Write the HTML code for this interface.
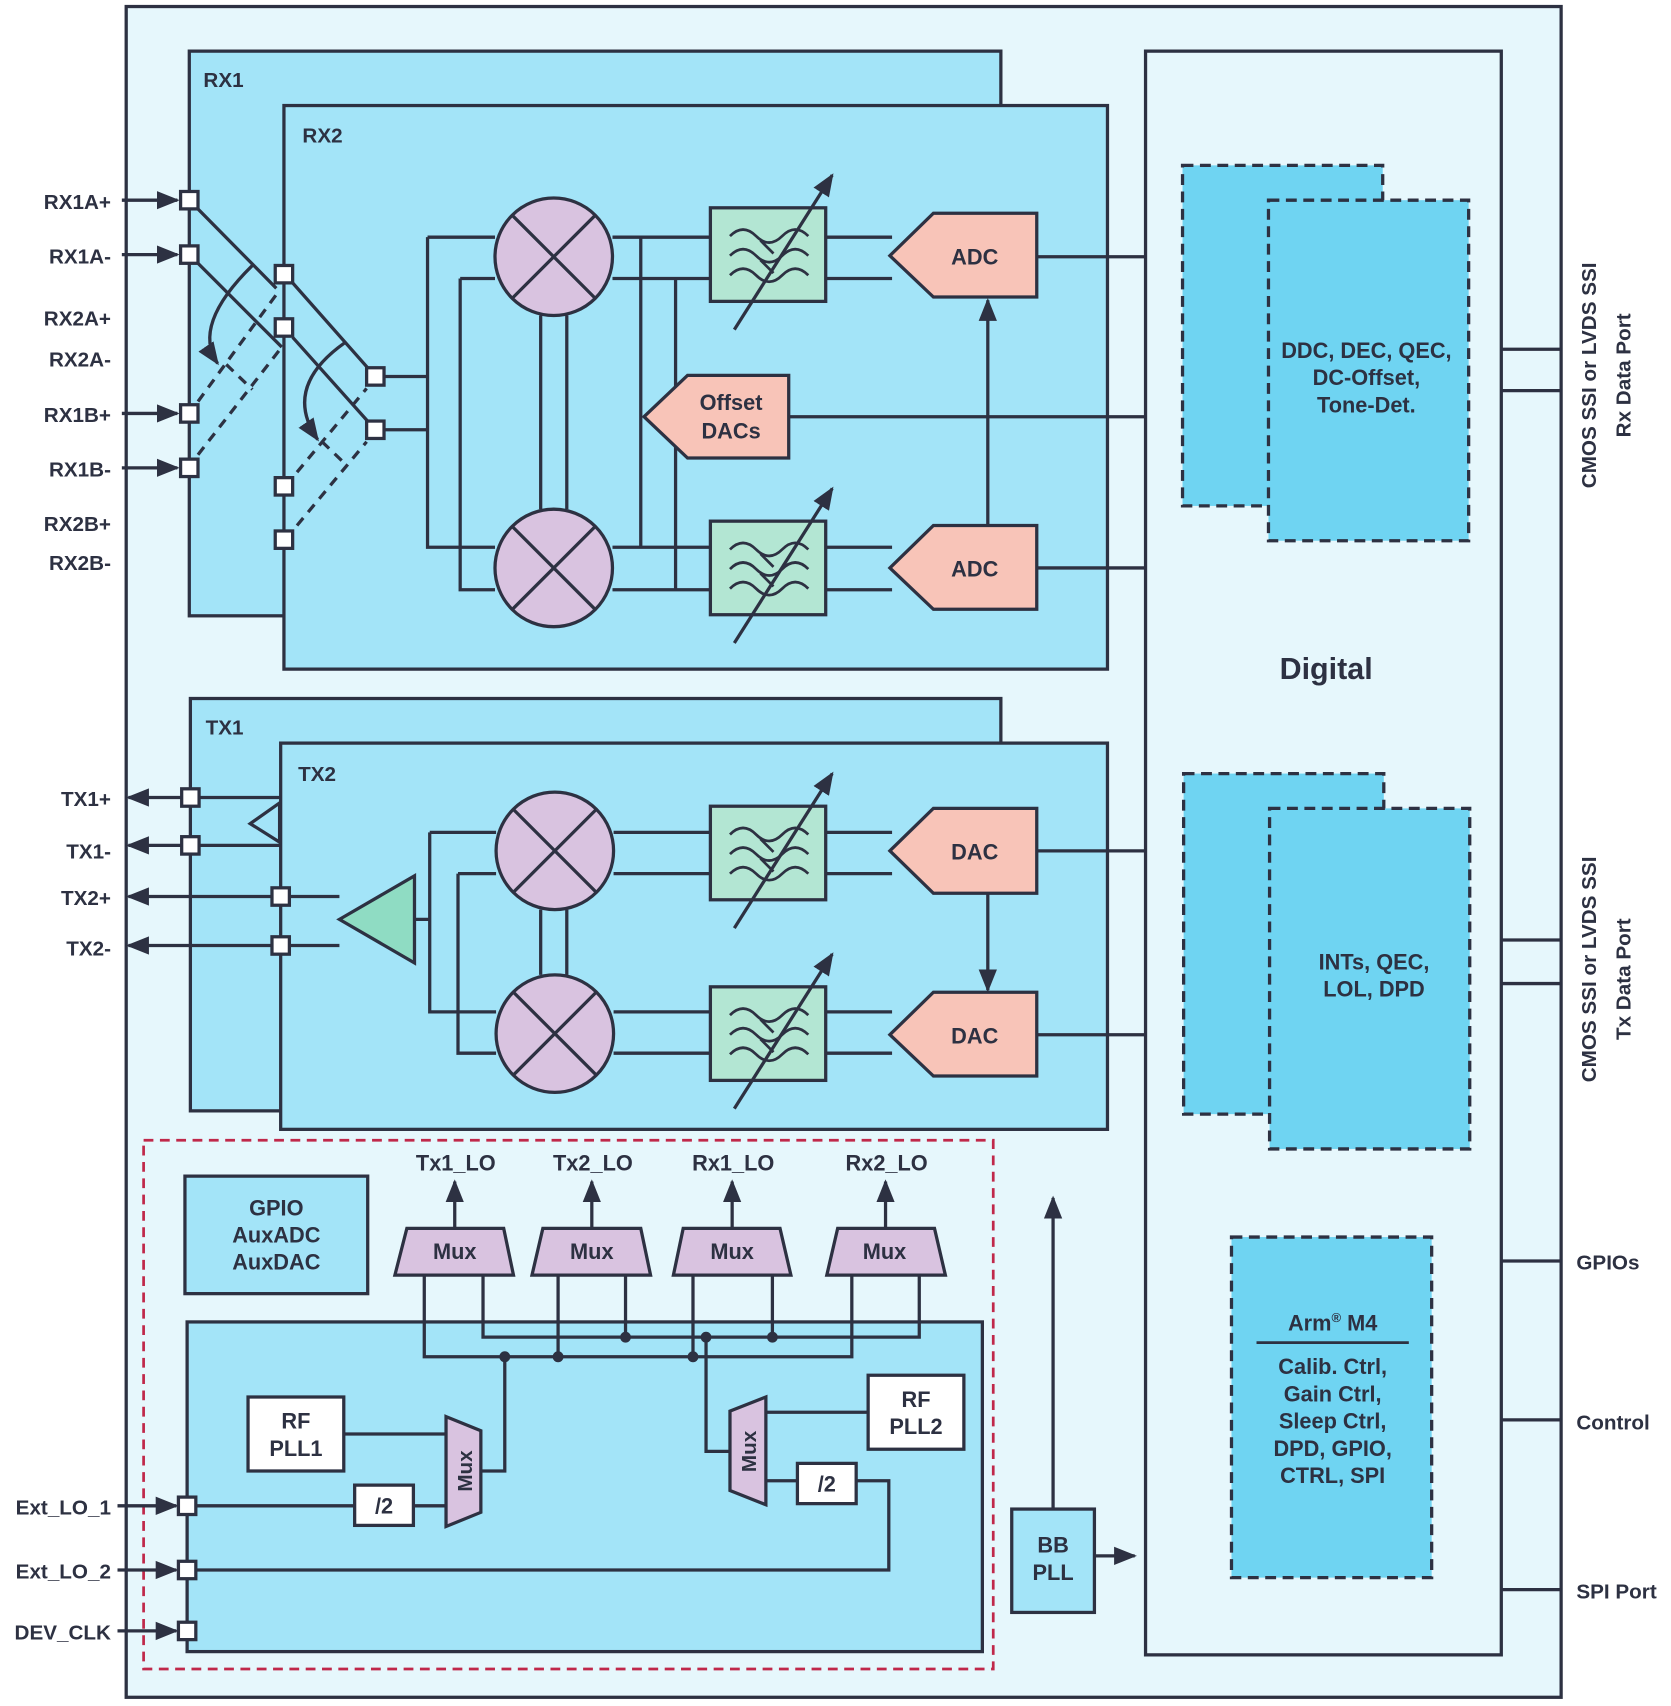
<!DOCTYPE html>
<html><head><meta charset="utf-8"><style>
html,body{margin:0;padding:0;background:#fff}
svg{display:block}
text{font-family:"Liberation Sans",sans-serif;font-weight:bold;fill:#2d3142}
</style></head><body>
<svg width="1671" height="1706" viewBox="0 0 1536 1568" preserveAspectRatio="none" xmlns="http://www.w3.org/2000/svg">
<defs>
<marker id="a" viewBox="0 0 10 10" refX="9" refY="5" markerWidth="7" markerHeight="7" orient="auto"><path d="M0,1 L10,5 L0,9 z" fill="#2d3142"/></marker>
<g id="mix"><circle r="54" fill="#d9c3e0" stroke="#2d3142" stroke-width="3"/><path d="M-38,-38 L38,38 M38,-38 L-38,38" stroke="#2d3142" stroke-width="3"/></g>
<g id="flt"><rect x="0" y="0" width="106" height="86" fill="#b3e6d3" stroke="#2d3142" stroke-width="3"/>
<path d="M18,26 q12,-12 24,0 t24,0 t24,0 M18,44 q12,-12 24,0 t24,0 t24,0 M18,62 q12,-12 24,0 t24,0 t24,0" fill="none" stroke="#2d3142" stroke-width="2.5"/>
<path d="M46,30 l12,12 M46,48 l12,12" stroke="#2d3142" stroke-width="2.5"/>
<path d="M22,112 L112,-30" stroke="#2d3142" stroke-width="3" marker-end="url(#a)"/></g>
<g id="sq"><rect x="-8" y="-8" width="16" height="16" fill="#fff" stroke="#2d3142" stroke-width="3"/></g>
</defs>
<rect x="0" y="0" width="1536" height="1568" fill="#fff"/>
<rect x="116" y="6" width="1319" height="1554" fill="#e6f7fc" stroke="#2d3142" stroke-width="3"/>
<g stroke="#2d3142" stroke-width="3" fill="none">
<path d="M1380,321 H1435 M1380,359 H1435 M1380,864 H1435 M1380,904 H1435 M1380,1159 H1435 M1380,1305 H1435 M1380,1461 H1435"/>
</g>
<rect x="174" y="47" width="746" height="519" fill="#a3e4f8" stroke="#2d3142" stroke-width="3"/>
<rect x="261" y="97" width="757" height="518" fill="#a3e4f8" stroke="#2d3142" stroke-width="3"/>
<rect x="175" y="642" width="745" height="379" fill="#a3e4f8" stroke="#2d3142" stroke-width="3"/>
<rect x="258" y="683" width="760" height="355" fill="#a3e4f8" stroke="#2d3142" stroke-width="3"/>
<rect x="1053" y="47" width="327" height="1474" fill="#e6f7fc" stroke="#2d3142" stroke-width="3"/>
<g fill="#6fd4f2" stroke="#2d3142" stroke-width="3" stroke-dasharray="10,6">
<rect x="1087" y="152" width="184" height="313"/><rect x="1166" y="184" width="184" height="313"/>
<rect x="1088" y="711" width="184" height="313"/><rect x="1167" y="743" width="184" height="313"/>
<rect x="1132" y="1137" width="184" height="313"/>
</g>
<rect x="132" y="1048" width="781" height="486" fill="none" stroke="#c0284a" stroke-width="2.5" stroke-dasharray="9,6"/>
<rect x="172" y="1215" width="731" height="303" fill="#a3e4f8" stroke="#2d3142" stroke-width="3"/>
<rect x="170" y="1081" width="168" height="108" fill="#a3e4f8" stroke="#2d3142" stroke-width="3"/>
<rect x="930" y="1387" width="76" height="95" fill="#a3e4f8" stroke="#2d3142" stroke-width="3"/>

<g stroke="#2d3142" stroke-width="3" fill="none">
<!-- RX switch -->
<path d="M174,184 L254,265 M174,234 L259,319 M269,260 L345,346 M269,310 L345,395 M345,346 H393 M345,395 H393"/>
<path d="M182,369 L256,268 M182,418 L259,319 M208,335 L232,358 M273,434 L337,357 M273,483 L337,406 M296,406 L318,427" stroke-dasharray="9,7"/>
<path d="M232,244 Q176,299 200,334" marker-end="url(#a)"/>
<path d="M317,315 Q259,356 292,404" marker-end="url(#a)"/>
<path d="M393,218 V503 H455 M393,218 H455 M423,256 V542 H455 M423,256 H455"/>
<path d="M563,218 H653 M563,256 H653 M563,503 H653 M563,542 H653 M589,218 V503 M621,256 V542"/>
<path d="M497,290 V468 M521,290 V468"/>
<path d="M759,218 H820 M759,256 H820 M759,503 H820 M759,542 H820"/>
<path d="M953,236 H1053 M953,522 H1053 M725,383 H1053"/>
<path d="M908,483 V276" marker-end="url(#a)"/>
<!-- TX wiring -->
<path d="M175,733 H258 M175,777 H258 M258,824 H312 M258,869 H312"/>
<path d="M175,733 H118" marker-end="url(#a)"/>
<path d="M175,777 H118" marker-end="url(#a)"/>
<path d="M258,824 H118" marker-end="url(#a)"/>
<path d="M258,869 H118" marker-end="url(#a)"/>
<path d="M382,845 H395 M395,765 V930 H456 M395,765 H456 M421,803 V968 H456 M421,803 H456"/>
<path d="M564,765 H653 M564,803 H653 M564,930 H653 M564,968 H653"/>
<path d="M497,836 V896 M521,836 V896"/>
<path d="M759,765 H820 M759,803 H820 M759,930 H820 M759,968 H820"/>
<path d="M953,782 H1053 M953,951 H1053"/>
<path d="M908,821 V910" marker-end="url(#a)"/>
<!-- input arrows -->
<path d="M112,184 H163" marker-end="url(#a)"/>
<path d="M112,234 H163" marker-end="url(#a)"/>
<path d="M112,380 H163" marker-end="url(#a)"/>
<path d="M112,430 H163" marker-end="url(#a)"/>
<path d="M108,1384 H162" marker-end="url(#a)"/>
<path d="M108,1443 H162" marker-end="url(#a)"/>
<path d="M108,1499 H162" marker-end="url(#a)"/>
<!-- LO mux wiring -->
<path d="M418,1129 V1086" marker-end="url(#a)"/>
<path d="M544,1129 V1086" marker-end="url(#a)"/>
<path d="M673,1129 V1086" marker-end="url(#a)"/>
<path d="M814,1129 V1086" marker-end="url(#a)"/>
<path d="M390,1172 V1247 H783 V1172 M444,1172 V1229 H845 V1172 M513,1172 V1247 M575,1172 V1229 M637,1172 V1247 M710,1172 V1229"/>
<path d="M464,1247 V1352 H441 M649,1229 V1334 H671"/>
<path d="M316,1318 H410 M172,1384 H326 M380,1384 H410 M172,1443 H817 V1361 H787 M733,1361 H704 M797,1298 H704"/>
<path d="M968,1387 V1101" marker-end="url(#a)"/>
<path d="M1006,1430 H1043" marker-end="url(#a)"/>
</g>
<g fill="#2d3142"><circle cx="464" cy="1247" r="5"/><circle cx="513" cy="1247" r="5"/><circle cx="637" cy="1247" r="5"/><circle cx="575" cy="1229" r="5"/><circle cx="649" cy="1229" r="5"/><circle cx="710" cy="1229" r="5"/></g>

<use href="#mix" x="509" y="236"/><use href="#mix" x="509" y="522"/>
<use href="#mix" x="510" y="782"/><use href="#mix" x="510" y="950"/>
<use href="#flt" x="653" y="191"/><use href="#flt" x="653" y="479"/>
<use href="#flt" x="653" y="741"/><use href="#flt" x="653" y="907"/>
<g fill="#f8c4b8" stroke="#2d3142" stroke-width="3">
<polygon points="818,235 858,196 953,196 953,273 858,273"/>
<polygon points="818,522 858,483 953,483 953,560 858,560"/>
<polygon points="818,782 858,743 953,743 953,821 858,821"/>
<polygon points="818,951 858,912 953,912 953,989 858,989"/>
<polygon points="592,383 632,345 725,345 725,421 632,421"/>
</g>
<polygon points="312,845 381,805 381,885" fill="#8fdcc3" stroke="#2d3142" stroke-width="3"/>
<polygon points="257,738 230,757 257,774" fill="none" stroke="#2d3142" stroke-width="3"/>
<g fill="#d9c3e0" stroke="#2d3142" stroke-width="3">
<polygon points="374,1129 463,1129 472,1172 363,1172"/>
<polygon points="499,1129 589,1129 598,1172 489,1172"/>
<polygon points="628,1129 717,1129 727,1172 619,1172"/>
<polygon points="770,1129 859,1129 869,1172 760,1172"/>
<polygon points="410,1302 442,1315 442,1390 410,1403"/>
<polygon points="704,1284 671,1297 671,1370 704,1383"/>
</g>
<g fill="#fff" stroke="#2d3142" stroke-width="3">
<rect x="228" y="1284" width="88" height="68"/><rect x="798" y="1264" width="88" height="68"/>
<rect x="326" y="1365" width="54" height="37"/><rect x="733" y="1345" width="54" height="37"/>
</g>
<use href="#sq" x="174" y="184"/><use href="#sq" x="174" y="234"/><use href="#sq" x="174" y="380"/><use href="#sq" x="174" y="430"/>
<use href="#sq" x="261" y="252"/><use href="#sq" x="261" y="301"/><use href="#sq" x="261" y="447"/><use href="#sq" x="261" y="496"/>
<use href="#sq" x="345" y="346"/><use href="#sq" x="345" y="395"/>
<use href="#sq" x="175" y="733"/><use href="#sq" x="175" y="777"/><use href="#sq" x="258" y="824"/><use href="#sq" x="258" y="869"/>
<use href="#sq" x="172" y="1384"/><use href="#sq" x="172" y="1443"/><use href="#sq" x="172" y="1499"/>

<g font-size="19">
<text x="187" y="80">RX1</text><text x="278" y="131">RX2</text>
<text x="189" y="675">TX1</text><text x="274" y="718">TX2</text>
</g>
<g font-size="19" text-anchor="end">
<text x="102" y="192">RX1A+</text><text x="102" y="242">RX1A-</text>
<text x="102" y="299">RX2A+</text><text x="102" y="337">RX2A-</text>
<text x="102" y="388">RX1B+</text><text x="102" y="438">RX1B-</text>
<text x="102" y="488">RX2B+</text><text x="102" y="524">RX2B-</text>
<text x="102" y="741">TX1+</text><text x="102" y="789">TX1-</text>
<text x="102" y="832">TX2+</text><text x="102" y="878">TX2-</text>
<text x="102" y="1392">Ext_LO_1</text><text x="102" y="1451">Ext_LO_2</text><text x="102" y="1507">DEV_CLK</text>
</g>
<g font-size="20" text-anchor="middle">
<text x="896" y="243">ADC</text><text x="896" y="530">ADC</text>
<text x="896" y="790">DAC</text><text x="896" y="959">DAC</text>
<text x="672" y="377">Offset</text><text x="672" y="403">DACs</text>
<text x="1256" y="329">DDC, DEC, QEC,</text><text x="1256" y="354">DC-Offset,</text><text x="1256" y="379">Tone-Det.</text>
<text x="1263" y="891">INTs, QEC,</text><text x="1263" y="916">LOL, DPD</text>
<text x="1225" y="1223">Arm<tspan font-size="12" dy="-8">®</tspan><tspan dy="8"> M4</tspan></text>
<text x="1225" y="1263">Calib. Ctrl,</text><text x="1225" y="1288">Gain Ctrl,</text><text x="1225" y="1313">Sleep Ctrl,</text><text x="1225" y="1338">DPD, GPIO,</text><text x="1225" y="1363">CTRL, SPI</text>
<text x="254" y="1117">GPIO</text><text x="254" y="1142">AuxADC</text><text x="254" y="1167">AuxDAC</text>
<text x="418" y="1157">Mux</text><text x="544" y="1157">Mux</text><text x="673" y="1157">Mux</text><text x="813" y="1157">Mux</text>
<text x="419" y="1076">Tx1_LO</text><text x="545" y="1076">Tx2_LO</text><text x="674" y="1076">Rx1_LO</text><text x="815" y="1076">Rx2_LO</text>
<text x="272" y="1313">RF</text><text x="272" y="1338">PLL1</text>
<text x="842" y="1293">RF</text><text x="842" y="1318">PLL2</text>
<text x="353" y="1391">/2</text><text x="760" y="1371">/2</text>
<text x="968" y="1427">BB</text><text x="968" y="1452">PLL</text>
</g>
<line x1="1155" y1="1234" x2="1295" y2="1234" stroke="#2d3142" stroke-width="2.5"/>
<text x="1219" y="624" font-size="28" text-anchor="middle">Digital</text>
<text transform="translate(434,1352) rotate(-90)" font-size="19" text-anchor="middle">Mux</text>
<text transform="translate(695,1334) rotate(-90)" font-size="19" text-anchor="middle">Mux</text>
<g font-size="19" text-anchor="middle">
<text transform="translate(1467,345) rotate(-90)">CMOS SSI or LVDS SSI</text>
<text transform="translate(1499,345) rotate(-90)">Rx Data Port</text>
<text transform="translate(1467,891) rotate(-90)">CMOS SSI or LVDS SSI</text>
<text transform="translate(1499,900) rotate(-90)">Tx Data Port</text>
</g>
<g font-size="19">
<text x="1449" y="1167">GPIOs</text><text x="1449" y="1314">Control</text><text x="1449" y="1469">SPI Port</text>
</g>
</svg>
</body></html>
